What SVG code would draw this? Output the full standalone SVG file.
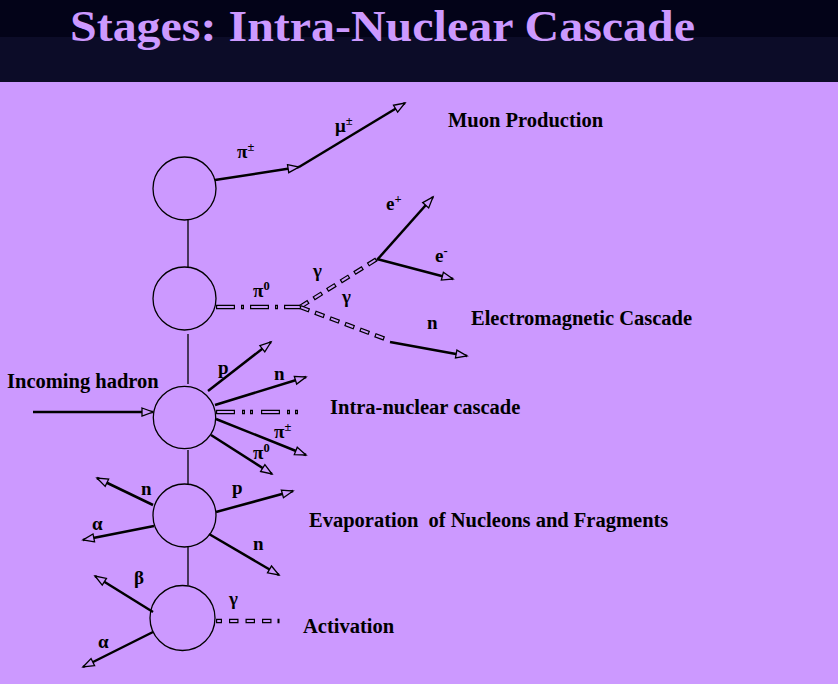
<svg xmlns="http://www.w3.org/2000/svg" width="838" height="684" viewBox="0 0 838 684">
<defs>
<marker id="ah" markerUnits="userSpaceOnUse" markerWidth="14" markerHeight="11" refX="12" refY="5" orient="auto" overflow="visible">
<path d="M1,1 L12,5 L1,9 Z" fill="#cc99ff" stroke="#000" stroke-width="1.3" stroke-linejoin="miter"/>
</marker>
</defs>
<style>
.node circle{fill:none;stroke:#000;stroke-width:1.3}
.link{stroke:#000;stroke-width:1.3;fill:none}
.arr{stroke:#000;stroke-width:2.5;fill:none;marker-end:url(#ah)}
.ho{stroke:#000;stroke-width:4.4;fill:none}
.hi{stroke:#cc99ff;stroke-width:2;fill:none}
.lbl{font-family:"Liberation Serif","Times New Roman",serif;font-weight:bold;fill:#000}
.big{font-size:20.5px}
.pt{font-size:19px}
.sup{font-size:12.5px}
</style>
<rect x="0" y="0" width="838" height="684" fill="#cc99ff"/>
<rect x="0" y="0" width="838" height="37" fill="#030318"/>
<rect x="0" y="37" width="838" height="45" fill="#0c0c28"/>
<text x="70" y="41" font-family="'Liberation Serif','Times New Roman',serif" font-weight="bold" font-size="44" fill="#cc99ff" textLength="625" lengthAdjust="spacingAndGlyphs">Stages: Intra-Nuclear Cascade</text>

<g id="nodes">
<g id="n1" class="node"><circle cx="184.5" cy="188.5" r="31.5"/></g>
<g id="n2" class="node"><circle cx="184.5" cy="298.5" r="31.5"/></g>
<g id="n3" class="node"><circle cx="184.5" cy="417.5" r="31.2"/></g>
<g id="n4" class="node"><circle cx="184.5" cy="515.5" r="31.5"/></g>
<g id="n5" class="node"><circle cx="182.5" cy="618" r="32.5"/></g>
</g>

<g id="connectors">
<line class="link" x1="188" y1="220" x2="188" y2="267"/>
<line class="link" x1="188" y1="334" x2="188" y2="384"/>
<line class="link" x1="188" y1="450" x2="188" y2="484"/>
<line class="link" x1="188" y1="547" x2="188" y2="585"/>

<line class="arr" x1="215" y1="180" x2="299" y2="167"/>
<line class="arr" x1="299" y1="167" x2="405" y2="103"/>

<path class="ho" d="M216,307 H300" stroke-dasharray="19 6 3 6"/>
<path class="hi" d="M216,307 H300" stroke-dasharray="16.6 8.4 0.6 8.4" stroke-dashoffset="-1.2"/>
<path class="ho" d="M300,307 L377,259" stroke-dasharray="10 6"/>
<path class="hi" d="M300,307 L377,259" stroke-dasharray="7.6 8.4" stroke-dashoffset="-1.2"/>
<path class="ho" d="M300,307 L388,340" stroke-dasharray="10 6"/>
<path class="hi" d="M300,307 L388,340" stroke-dasharray="7.6 8.4" stroke-dashoffset="-1.2"/>
<line class="arr" x1="377" y1="260" x2="433" y2="197"/>
<line class="arr" x1="377" y1="259" x2="453" y2="279"/>
<line class="arr" x1="390" y1="342" x2="467" y2="356"/>

<line class="arr" x1="33" y1="412" x2="153" y2="412"/>

<line class="arr" x1="208" y1="391" x2="271" y2="342"/>
<line class="arr" x1="215" y1="405" x2="306" y2="377"/>
<path class="ho" d="M216,412 H299" stroke-dasharray="19 7 3 5 3 8"/>
<path class="hi" d="M216,412 H299" stroke-dasharray="16.6 9.4 0.6 7.4 0.6 10.4" stroke-dashoffset="-1.2"/>
<line class="arr" x1="216" y1="419" x2="306" y2="455"/>
<line class="arr" x1="211" y1="435" x2="272" y2="474"/>

<line class="arr" x1="153" y1="505" x2="97" y2="478"/>
<line class="arr" x1="154" y1="526" x2="83" y2="540"/>
<line class="arr" x1="216" y1="512" x2="293" y2="491"/>
<line class="arr" x1="209" y1="534" x2="279" y2="575"/>

<line class="arr" x1="153" y1="612" x2="95" y2="576"/>
<line class="arr" x1="153" y1="632" x2="83" y2="667"/>
<path class="ho" d="M216,621 H281" stroke-dasharray="6 7 9.5 7 9.5 7 9.5 6 2 20"/>
<path class="hi" d="M216,621 H281" stroke-dasharray="3.6 9.4 7.1 9.4 7.1 9.4 7.1 8.4 0 20" stroke-dashoffset="-1.2"/>
</g>

<g id="labels">
<text class="lbl pt" x="237" y="158">π<tspan class="sup" dy="-7">±</tspan></text>
<text class="lbl pt" x="335" y="132">μ<tspan class="sup" dy="-7">±</tspan></text>
<text class="lbl big" x="448" y="127">Muon Production</text>
<text class="lbl pt" x="386" y="210">e<tspan class="sup" dy="-7">+</tspan></text>
<text class="lbl pt" x="435" y="262">e<tspan class="sup" dy="-7">-</tspan></text>
<text class="lbl pt" x="313" y="277">γ</text>
<text class="lbl pt" x="342" y="303">γ</text>
<text class="lbl pt" x="253" y="297">π<tspan class="sup" dy="-7">0</tspan></text>
<text class="lbl pt" x="427" y="329">n</text>
<text class="lbl big" x="471" y="325">Electromagnetic Cascade</text>
<text class="lbl big" x="7" y="388">Incoming hadron</text>
<text class="lbl pt" x="218" y="374">p</text>
<text class="lbl pt" x="274" y="380">n</text>
<text class="lbl big" x="330" y="414">Intra-nuclear cascade</text>
<text class="lbl pt" x="274" y="438">π<tspan class="sup" dy="-7">±</tspan></text>
<text class="lbl pt" x="253" y="459">π<tspan class="sup" dy="-7">0</tspan></text>
<text class="lbl pt" x="141" y="495">n</text>
<text class="lbl pt" x="92" y="530">α</text>
<text class="lbl pt" x="232" y="494">p</text>
<text class="lbl pt" x="253" y="550">n</text>
<text class="lbl big" x="309" y="527" xml:space="preserve">Evaporation  of Nucleons and Fragments</text>
<text class="lbl pt" x="134" y="584">β</text>
<text class="lbl pt" x="98" y="648">α</text>
<text class="lbl pt" x="229" y="605">γ</text>
<text class="lbl big" x="303" y="633">Activation</text>
</g>
</svg>
